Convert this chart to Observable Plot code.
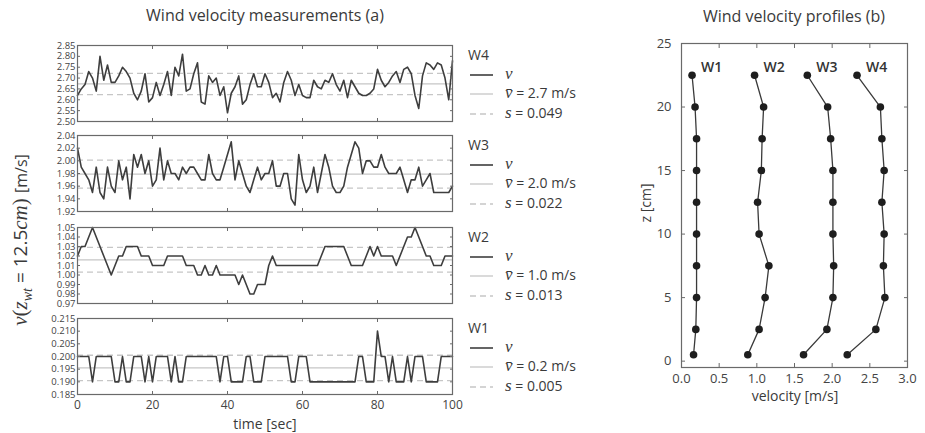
<!DOCTYPE html>
<html><head><meta charset="utf-8">
<script src="https://cdn.jsdelivr.net/npm/d3@7"></script>
<script src="https://cdn.jsdelivr.net/npm/@observablehq/plot@0.6"></script>
<style>
body{margin:0;background:#fff;}
#c{position:relative;width:925px;height:433px;overflow:hidden;font-family:"Open Sans",sans-serif;color:#3c3c3c;background:#fff;}
#c svg{position:absolute;overflow:visible}
</style></head><body><div id="c"></div>
<script>
// ---------- data ----------
const times = d3.range(0, 101); // 1 s sampling, 0..100 s

const W4 = [2.62,2.65,2.67,2.73,2.70,2.64,2.80,2.69,2.76,2.68,
2.68,2.71,2.75,2.73,2.70,2.63,2.60,2.64,2.72,2.59,
2.61,2.68,2.62,2.67,2.73,2.62,2.75,2.71,2.81,2.64,
2.65,2.72,2.77,2.59,2.58,2.71,2.68,2.70,2.62,2.66,
2.54,2.63,2.66,2.71,2.58,2.60,2.67,2.72,2.66,2.66,
2.72,2.68,2.61,2.63,2.59,2.68,2.73,2.69,2.62,2.67,
2.62,2.61,2.61,2.69,2.66,2.65,2.69,2.68,2.72,2.67,
2.64,2.69,2.61,2.69,2.66,2.63,2.62,2.62,2.63,2.65,
2.74,2.69,2.66,2.68,2.71,2.73,2.68,2.74,2.75,2.72,
2.62,2.56,2.71,2.77,2.76,2.74,2.77,2.76,2.70,2.60,2.78];

const W3 = [2.02,1.99,1.98,1.97,1.95,1.99,1.95,1.94,1.99,1.96,
1.95,2.00,1.97,1.99,1.94,2.01,1.99,2.01,1.98,2.00,
1.96,1.97,2.02,1.97,2.00,1.98,1.98,1.97,1.99,1.98,
1.99,1.99,1.98,1.97,1.97,2.01,1.98,1.97,1.97,1.99,
2.01,2.03,1.97,2.00,1.98,1.96,1.95,1.97,1.99,1.97,
1.98,1.98,2.00,1.96,1.96,1.98,1.98,1.94,1.93,2.01,
1.97,1.95,1.96,1.99,1.95,1.98,2.01,1.99,1.96,1.95,
1.95,1.96,1.99,2.01,2.03,2.02,1.98,2.00,2.00,1.99,
1.99,2.01,1.99,1.98,1.98,1.98,1.99,1.97,1.95,1.97,
1.97,1.99,1.96,1.97,1.98,1.95,1.95,1.95,1.95,1.95,1.96];

const W2 = [1.02,1.03,1.03,1.04,1.05,1.04,1.03,1.02,1.01,1.00,
1.01,1.02,1.02,1.03,1.03,1.03,1.03,1.02,1.02,1.02,
1.01,1.01,1.01,1.01,1.02,1.02,1.02,1.02,1.02,1.01,
1.01,1.01,1.00,1.00,1.01,1.00,1.00,1.01,1.00,1.00,
1.00,1.00,1.00,0.99,1.00,0.99,0.98,0.98,0.99,0.99,
0.99,1.01,1.02,1.01,1.01,1.01,1.01,1.01,1.01,1.01,
1.01,1.01,1.01,1.01,1.01,1.02,1.03,1.03,1.03,1.03,
1.03,1.03,1.02,1.01,1.01,1.01,1.01,1.02,1.03,1.02,
1.03,1.02,1.02,1.02,1.02,1.01,1.02,1.03,1.04,1.04,
1.05,1.04,1.03,1.02,1.02,1.01,1.01,1.01,1.02,1.02,1.02];

const W1 = [0.200,0.200,0.200,0.200,0.190,0.200,0.200,0.200,0.200,0.200,
0.190,0.190,0.200,0.190,0.190,0.200,0.200,0.200,0.190,0.200,
0.190,0.200,0.200,0.200,0.200,0.190,0.200,0.190,0.190,0.200,
0.200,0.200,0.200,0.200,0.200,0.200,0.200,0.200,0.190,0.200,
0.200,0.190,0.190,0.190,0.190,0.200,0.200,0.190,0.190,0.190,
0.200,0.200,0.200,0.200,0.200,0.200,0.200,0.190,0.190,0.200,
0.200,0.200,0.190,0.190,0.190,0.190,0.190,0.190,0.190,0.190,
0.190,0.190,0.190,0.190,0.190,0.200,0.200,0.190,0.190,0.190,
0.210,0.200,0.200,0.190,0.200,0.190,0.190,0.190,0.200,0.190,
0.200,0.200,0.200,0.190,0.190,0.190,0.190,0.200,0.200,0.200,0.200];

const seriesNames = ["W4","W3","W2","W1"];
const seriesValues = [W4, W3, W2, W1];
const seriesMeans = [2.673, 1.979, 1.016, 0.1955];
const seriesSD = [0.049, 0.022, 0.013, 0.005];
const meanLabels = ["2.7", "2.0", "1.0", "0.2"];
const sdLabels = ["0.049", "0.022", "0.013", "0.005"];
const yDomains = [[2.50,2.85],[1.92,2.04],[0.97,1.05],[0.185,0.215]];
const yTicks = [
  [2.50,2.55,2.60,2.65,2.70,2.75,2.80,2.85],
  [1.92,1.94,1.96,1.98,2.00,2.02,2.04],
  [0.97,0.98,0.99,1.00,1.01,1.02,1.03,1.04,1.05],
  [0.185,0.190,0.195,0.200,0.205,0.210,0.215]
];
const yFormats = [".2f",".2f",".2f",".3f"];
const timeTicks = [0,20,40,60,80,100];

// profiles
const zLevels = [0.5,2.5,5,7.5,10,12.5,15,17.5,20,22.5];
const profW1 = [0.16,0.19,0.20,0.20,0.20,0.20,0.20,0.20,0.18,0.14];
const profW2 = [0.88,1.03,1.11,1.16,1.03,1.01,1.06,1.07,1.09,0.97];
const profW3 = [1.62,1.93,2.01,2.02,2.01,2.01,2.01,1.98,1.94,1.67];
const profW4 = [2.20,2.58,2.70,2.68,2.69,2.66,2.69,2.66,2.64,2.33];
const profNames = ["W1","W2","W3","W4"];
const velTicks = [0,0.5,1.0,1.5,2.0,2.5,3.0];
const zTicks = [0,5,10,15,20,25];

// ---------- layout ----------
const c = document.getElementById("c");
function place(el, left, top){ el.style.left = left+"px"; el.style.top = top+"px"; c.appendChild(el); }
const panelTops = [45, 135, 227, 318];
const frameH = 76;
const axisColor = "#6a6a6a";
const blank = () => "";

seriesNames.forEach((name, i) => {
  const last = i === seriesNames.length - 1;
  const data = times.map((t, j) => ({t, v: seriesValues[i][j]}));
  const m = seriesMeans[i], s = seriesSD[i];
  const mb = last ? 44 : 4;
  const fig = Plot.plot({
    width: 460, height: 4 + frameH + mb,
    marginLeft: 77, marginRight: 8, marginTop: 4, marginBottom: mb,
    x: {domain: [0, 100]},
    y: {domain: yDomains[i]},
    style: {fontFamily: "Open Sans", fontSize: "11px", color: "#444", background: "transparent", overflow: "visible"},
    marks: [
      Plot.ruleY([m], {stroke: "#c6c6c6", strokeWidth: 1.3}),
      Plot.ruleY([m - s, m + s], {stroke: "#c6c6c6", strokeWidth: 1.3, strokeDasharray: "6,4"}),
      Plot.line(data, {x: "t", y: "v", stroke: "#3e3e3e", strokeWidth: 1.6}),
      Plot.frame({stroke: axisColor, strokeWidth: 1.2}),
      Plot.axisY({ticks: yTicks[i], tickSize: -3, tickFormat: blank, label: null, stroke: axisColor}),
      Plot.axisY({anchor: "right", ticks: yTicks[i], tickSize: -3, tickFormat: blank, label: null, stroke: axisColor}),
      Plot.axisX({ticks: timeTicks, tickSize: -3, tickFormat: blank, label: null, stroke: axisColor}),
      Plot.axisX({anchor: "top", ticks: timeTicks, tickSize: -3, tickFormat: blank, label: null, stroke: axisColor}),
      Plot.axisY({ticks: yTicks[i], tickSize: 0, tickPadding: 2, tickFormat: d3.format(yFormats[i]), label: null, fontSize: 9.5}),
      last ? Plot.axisX({ticks: timeTicks, tickSize: 0, tickPadding: 6, label: null, fontSize: 12}) : null
    ]
  });
  place(fig, 0, panelTops[i] - 4);
});

// profile panel
const profRows = [];
[profW1, profW2, profW3, profW4].forEach((arr, k) => {
  zLevels.forEach((z, j) => profRows.push({name: profNames[k], z, v: arr[j]}));
});
const prof = Plot.plot({
  width: 325, height: 382,
  marginLeft: 81, marginRight: 18, marginTop: 13, marginBottom: 45,
  x: {domain: [0, 3]},
  y: {domain: [-0.5, 25]},
  style: {fontFamily: "Open Sans", fontSize: "13px", color: "#444", background: "transparent", overflow: "visible"},
  marks: [
    Plot.line(profRows, {x: "v", y: "z", z: "name", stroke: "#3a3a3a", strokeWidth: 1.3}),
    Plot.dot(profRows, {x: "v", y: "z", r: 3.8, fill: "#1e1e1e", stroke: "none"}),
    Plot.text(profRows, Plot.selectMaxY({x: "v", y: "z", z: "name", text: "name", dx: 9, dy: -8, textAnchor: "start", fontSize: 14, fontWeight: 600, fill: "#333"})),
    Plot.frame({stroke: axisColor, strokeWidth: 1.2}),
    Plot.axisY({ticks: zTicks, tickSize: -4, tickFormat: blank, label: null, stroke: axisColor}),
    Plot.axisY({anchor: "right", ticks: zTicks, tickSize: -4, tickFormat: blank, label: null, stroke: axisColor}),
    Plot.axisX({ticks: velTicks, tickSize: -4, tickFormat: blank, label: null, stroke: axisColor}),
    Plot.axisX({anchor: "top", ticks: velTicks, tickSize: -4, tickFormat: blank, label: null, stroke: axisColor}),
    Plot.axisY({ticks: zTicks, tickSize: 0, tickPadding: 10, label: null, fontSize: 13}),
    Plot.axisX({ticks: velTicks, tickSize: 0, tickPadding: 6, tickFormat: d3.format(".1f"), label: null, fontSize: 13})
  ]
});
place(prof, 600, 30);

// ---------- overlay text (titles, labels, legend) ----------
const ns = "http://www.w3.org/2000/svg";
const ov = document.createElementNS(ns, "svg");
ov.setAttribute("width", 925); ov.setAttribute("height", 433);
let html = "";
html += `<text x="265" y="21" text-anchor="middle" font-family="Open Sans" font-size="16" fill="#3a3a3a">Wind velocity measurements (a)</text>`;
html += `<text x="794" y="22" text-anchor="middle" font-family="Open Sans" font-size="16" fill="#3a3a3a">Wind velocity profiles (b)</text>`;
html += `<text x="265" y="429" text-anchor="middle" font-family="Open Sans" font-size="14" fill="#3a3a3a">time [sec]</text>`;
html += `<text x="795" y="401" text-anchor="middle" font-family="Open Sans" font-size="14" fill="#3a3a3a">velocity [m/s]</text>`;
html += `<text transform="translate(651,203) rotate(-90)" text-anchor="middle" font-family="Open Sans" font-size="14" fill="#3a3a3a">z [cm]</text>`;
html += `<text transform="translate(27,240) rotate(-90)" text-anchor="middle" font-size="21" fill="#3a3a3a" font-family="Liberation Serif"><tspan font-style="italic">v</tspan>(<tspan font-style="italic">z</tspan><tspan font-style="italic" font-size="14" dy="5">wt</tspan><tspan dy="-5" font-family="Open Sans" font-size="19">  =  12.5</tspan><tspan font-style="italic">cm</tspan>) <tspan font-family="Open Sans" font-size="16">[m/s]</tspan></text>`;
seriesNames.forEach((name, i) => {
  const y0 = panelTops[i] + 10;
  const lx = 470, tx = 505;
  html += `<text x="468" y="${y0+5}" font-family="Open Sans" font-size="14" fill="#3a3a3a">${name}</text>`;
  html += `<line x1="${lx}" x2="${lx+23}" y1="${y0+20}" y2="${y0+20}" stroke="#3e3e3e" stroke-width="1.6"/>`;
  html += `<text x="${tx}" y="${y0+24}" font-family="Liberation Serif" font-style="italic" font-size="17" fill="#3a3a3a">v</text>`;
  html += `<line x1="${lx}" x2="${lx+23}" y1="${y0+39}" y2="${y0+39}" stroke="#c6c6c6" stroke-width="1.3"/>`;
  html += `<text x="${tx}" y="${y0+43}" font-family="Open Sans" font-size="14" fill="#3a3a3a"><tspan font-family="Liberation Serif" font-style="italic" font-size="17">v&#x0304;</tspan> = ${meanLabels[i]} m/s</text>`;
  html += `<line x1="${lx}" x2="${lx+23}" y1="${y0+59}" y2="${y0+59}" stroke="#c6c6c6" stroke-width="1.3" stroke-dasharray="6,4"/>`;
  html += `<text x="${tx}" y="${y0+63}" font-family="Open Sans" font-size="14" fill="#3a3a3a"><tspan font-family="Liberation Serif" font-style="italic" font-size="17">s</tspan> = ${sdLabels[i]}</text>`;
});
ov.innerHTML = html;
ov.style.left = "0px"; ov.style.top = "0px";
c.appendChild(ov);
</script></body></html>
